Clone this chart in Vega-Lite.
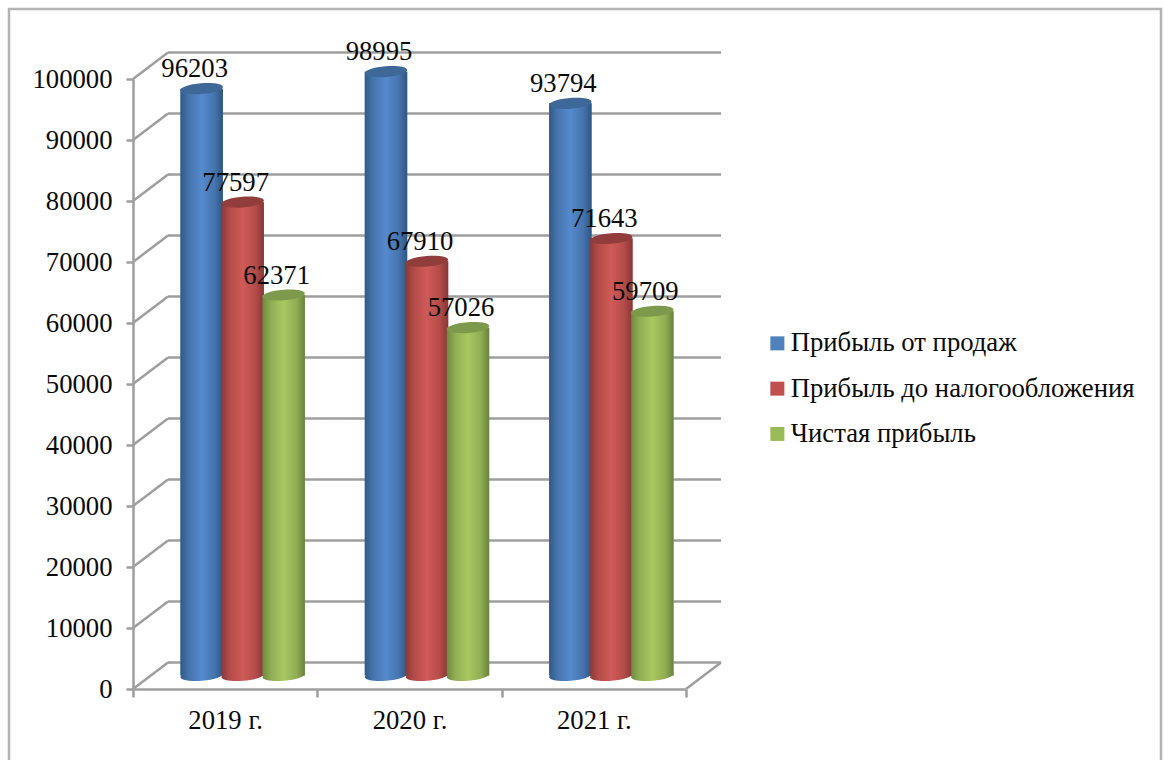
{
  "$schema": "https://vega.github.io/schema/vega-lite/v6.json",
  "autosize": {"type": "none"},
  "padding": {"left": 133, "top": 79, "right": 478, "bottom": 71},
  "width": 553,
  "height": 610,
  "background": "white",
  "config": {
    "view": {"stroke": null},
    "text": {"font": "Liberation Serif"},
    "axis": {
      "labelFont": "Liberation Serif", "labelFontSize": 26.7, "labelColor": "#0a0a0a",
      "domainColor": "#9e9e9e", "domainWidth": 2.5, "tickColor": "#9e9e9e", "tickWidth": 2.5,
      "grid": false, "title": null
    }
  },
  "datasets": {
    "profit": [
      {"year": "2019 г.", "series": "Прибыль от продаж", "value": 96203},
      {"year": "2019 г.", "series": "Прибыль до налогообложения", "value": 77597},
      {"year": "2019 г.", "series": "Чистая прибыль", "value": 62371},
      {"year": "2020 г.", "series": "Прибыль от продаж", "value": 98995},
      {"year": "2020 г.", "series": "Прибыль до налогообложения", "value": 67910},
      {"year": "2020 г.", "series": "Чистая прибыль", "value": 57026},
      {"year": "2021 г.", "series": "Прибыль от продаж", "value": 93794},
      {"year": "2021 г.", "series": "Прибыль до налогообложения", "value": 71643},
      {"year": "2021 г.", "series": "Чистая прибыль", "value": 59709}
    ],
    "gridTicks": [
      {"tick": 0}, {"tick": 10000}, {"tick": 20000}, {"tick": 30000}, {"tick": 40000}, {"tick": 50000},
      {"tick": 60000}, {"tick": 70000}, {"tick": 80000}, {"tick": 90000}, {"tick": 100000}
    ]
  },
  "layer": [
    {
      "description": "Outer frame of the chart area",
      "data": {"values": [{"frame": 1}]},
      "mark": {"type": "rect", "fill": null, "stroke": "#b4b4b4", "strokeWidth": 2.5},
      "encoding": {
        "x": {"value": -124},
        "x2": {"value": 1028},
        "y": {"value": -70},
        "y2": {"value": 700}
      }
    },
    {
      "description": "Gridlines on the back wall, pushed back by the depth of the 3D box",
      "data": {"name": "gridTicks"},
      "mark": {"type": "rule", "color": "#9e9e9e", "strokeWidth": 2.5, "xOffset": 35, "x2Offset": 35, "yOffset": -26.5, "y2Offset": -26.5},
      "encoding": {
        "y": {"field": "tick", "type": "quantitative", "scale": {"domain": [0, 100000], "nice": false},
          "axis": {"values": [0, 10000, 20000, 30000, 40000, 50000, 60000, 70000, 80000, 90000, 100000], "format": "d", "tickSize": 7, "labelPadding": 14}},
        "x": {"value": 0},
        "x2": {"value": {"expr": "width"}}
      }
    },
    {
      "description": "Diagonals on the side wall",
      "data": {"name": "gridTicks"},
      "mark": {"type": "rule", "color": "#9e9e9e", "strokeWidth": 2.5, "x2Offset": 35, "y2Offset": -26.5},
      "encoding": {
        "y": {"field": "tick", "type": "quantitative"},
        "y2": {"field": "tick"},
        "x": {"value": 0},
        "x2": {"value": 0}
      }
    },
    {
      "description": "Right edge of the floor",
      "data": {"values": [{"tick": 0}]},
      "mark": {"type": "rule", "color": "#9e9e9e", "strokeWidth": 2.5, "x2Offset": 35, "y2Offset": -26.5},
      "encoding": {
        "y": {"field": "tick", "type": "quantitative"},
        "y2": {"field": "tick"},
        "x": {"value": {"expr": "width"}},
        "x2": {"value": {"expr": "width"}}
      }
    },
    {
      "data": {"name": "profit"},
      "encoding": {
        "x": {"field": "year", "type": "nominal", "scale": {"paddingInner": 0, "paddingOuter": 0},
          "axis": {"tickBand": "extent", "labelAngle": 0, "tickSize": 8, "labelPadding": 10}},
        "xOffset": {"field": "series", "type": "nominal",
          "scale": {"domain": ["Прибыль от продаж", "Прибыль до налогообложения", "Чистая прибыль"], "range": [17.5, 201.83], "paddingInner": 0, "paddingOuter": 0.748}}
      },
      "layer": [
        {
          "description": "Flat column bodies; they carry the legend",
          "mark": {"type": "bar", "width": 42.4, "yOffset": -13.5, "y2Offset": -13.5},
          "encoding": {
            "y": {"field": "value", "type": "quantitative"},
            "y2": {"datum": 0},
            "color": {"field": "series", "type": "nominal",
              "scale": {"domain": ["Прибыль от продаж", "Прибыль до налогообложения", "Чистая прибыль"], "range": ["#4F81BD", "#C0504D", "#9BBB59"]},
              "legend": {"orient": "none", "legendX": 631, "legendY": 251, "title": null, "symbolType": "square", "symbolSize": 196, "symbolStrokeWidth": 0, "symbolOpacity": 1,
                "labelFont": "Liberation Serif", "labelFontSize": 26.7, "labelColor": "#0a0a0a", "labelLimit": 500, "labelOffset": 0, "rowPadding": 17.3, "padding": 0}}
          }
        },
        {
          "transform": [{"filter": "datum.series === 'Прибыль от продаж'"}],
          "layer": [
            {
              "mark": {"type": "bar", "width": 42.4, "yOffset": -13.5, "y2Offset": -13.5,
                "color": {"gradient": "linear", "x1": 0, "x2": 1, "y1": 0, "y2": 0, "stops": [
                  {"offset": 0, "color": "#315a88"}, {"offset": 0.2, "color": "#4674ad"}, {"offset": 0.5, "color": "#558ace"}, {"offset": 0.8, "color": "#4674ad"}, {"offset": 1, "color": "#2f5683"}]}},
              "encoding": {"y": {"field": "value", "type": "quantitative"}, "y2": {"datum": 0}}
            },
            {
              "mark": {"type": "point", "filled": true, "opacity": 1, "size": 1798, "yOffset": -13.5, "shape": "M-1,0.08A1.003,0.25 -4.6 1 0 1,-0.08A1.003,0.25 -4.6 1 0 -1,0.08Z",
                "color": {"gradient": "linear", "x1": 0, "x2": 1, "y1": 0, "y2": 0, "stops": [
                  {"offset": 0, "color": "#315a88"}, {"offset": 0.2, "color": "#4674ad"}, {"offset": 0.5, "color": "#558ace"}, {"offset": 0.8, "color": "#4674ad"}, {"offset": 1, "color": "#2f5683"}]}},
              "encoding": {"y": {"datum": 0}}
            },
            {
              "mark": {"type": "point", "filled": true, "opacity": 1, "size": 1798, "yOffset": -13.5, "shape": "M-1,0.08A1.003,0.25 -4.6 1 0 1,-0.08A1.003,0.25 -4.6 1 0 -1,0.08Z", "color": "#3d6897"},
              "encoding": {"y": {"field": "value", "type": "quantitative"}}
            }
          ]
        },
        {
          "transform": [{"filter": "datum.series === 'Прибыль до налогообложения'"}],
          "layer": [
            {
              "mark": {"type": "bar", "width": 42.4, "yOffset": -13.5, "y2Offset": -13.5,
                "color": {"gradient": "linear", "x1": 0, "x2": 1, "y1": 0, "y2": 0, "stops": [
                  {"offset": 0, "color": "#8a3a38"}, {"offset": 0.2, "color": "#b44c49"}, {"offset": 0.5, "color": "#d05a57"}, {"offset": 0.8, "color": "#b44c49"}, {"offset": 1, "color": "#863836"}]}},
              "encoding": {"y": {"field": "value", "type": "quantitative"}, "y2": {"datum": 0}}
            },
            {
              "mark": {"type": "point", "filled": true, "opacity": 1, "size": 1798, "yOffset": -13.5, "shape": "M-1,0.08A1.003,0.25 -4.6 1 0 1,-0.08A1.003,0.25 -4.6 1 0 -1,0.08Z",
                "color": {"gradient": "linear", "x1": 0, "x2": 1, "y1": 0, "y2": 0, "stops": [
                  {"offset": 0, "color": "#8a3a38"}, {"offset": 0.2, "color": "#b44c49"}, {"offset": 0.5, "color": "#d05a57"}, {"offset": 0.8, "color": "#b44c49"}, {"offset": 1, "color": "#863836"}]}},
              "encoding": {"y": {"datum": 0}}
            },
            {
              "mark": {"type": "point", "filled": true, "opacity": 1, "size": 1798, "yOffset": -13.5, "shape": "M-1,0.08A1.003,0.25 -4.6 1 0 1,-0.08A1.003,0.25 -4.6 1 0 -1,0.08Z", "color": "#913d3b"},
              "encoding": {"y": {"field": "value", "type": "quantitative"}}
            }
          ]
        },
        {
          "transform": [{"filter": "datum.series === 'Чистая прибыль'"}],
          "layer": [
            {
              "mark": {"type": "bar", "width": 42.4, "yOffset": -13.5, "y2Offset": -13.5,
                "color": {"gradient": "linear", "x1": 0, "x2": 1, "y1": 0, "y2": 0, "stops": [
                  {"offset": 0, "color": "#6e8a41"}, {"offset": 0.2, "color": "#90ae53"}, {"offset": 0.5, "color": "#a8c860"}, {"offset": 0.8, "color": "#90ae53"}, {"offset": 1, "color": "#69833d"}]}},
              "encoding": {"y": {"field": "value", "type": "quantitative"}, "y2": {"datum": 0}}
            },
            {
              "mark": {"type": "point", "filled": true, "opacity": 1, "size": 1798, "yOffset": -13.5, "shape": "M-1,0.08A1.003,0.25 -4.6 1 0 1,-0.08A1.003,0.25 -4.6 1 0 -1,0.08Z",
                "color": {"gradient": "linear", "x1": 0, "x2": 1, "y1": 0, "y2": 0, "stops": [
                  {"offset": 0, "color": "#6e8a41"}, {"offset": 0.2, "color": "#90ae53"}, {"offset": 0.5, "color": "#a8c860"}, {"offset": 0.8, "color": "#90ae53"}, {"offset": 1, "color": "#69833d"}]}},
              "encoding": {"y": {"datum": 0}}
            },
            {
              "mark": {"type": "point", "filled": true, "opacity": 1, "size": 1798, "yOffset": -13.5, "shape": "M-1,0.08A1.003,0.25 -4.6 1 0 1,-0.08A1.003,0.25 -4.6 1 0 -1,0.08Z", "color": "#7d9a4c"},
              "encoding": {"y": {"field": "value", "type": "quantitative"}}
            }
          ]
        },
        {
          "description": "Value labels above each column",
          "mark": {"type": "text", "fontSize": 26.7, "color": "#0a0a0a", "align": "center", "baseline": "alphabetic", "dx": -7, "dy": -25},
          "encoding": {
            "y": {"field": "value", "type": "quantitative"},
            "text": {"field": "value", "type": "quantitative", "format": "d"}
          }
        }
      ]
    }
  ]
}
